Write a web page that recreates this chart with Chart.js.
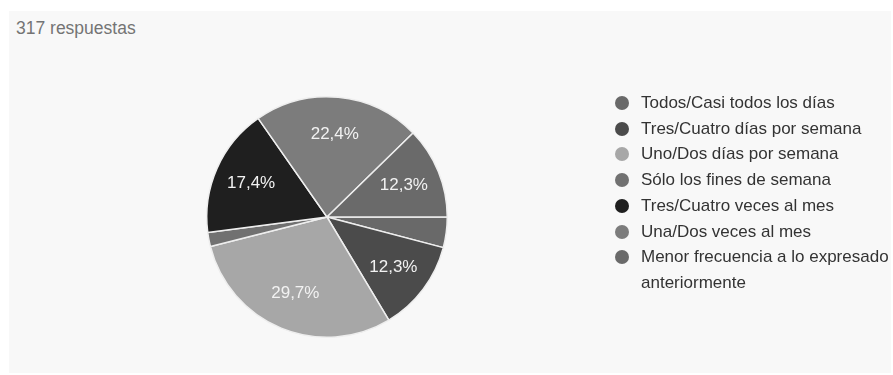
<!DOCTYPE html>
<html>
<head>
<meta charset="utf-8">
<script src="https://cdn.jsdelivr.net/npm/chart.js@4.4.0/dist/chart.umd.min.js"></script>
<style>
  body { margin: 0; background: #fff; width: 893px; height: 375px; overflow: hidden; font-family: "Liberation Sans", Arial, sans-serif; }
  #panel { position: absolute; left: 9px; top: 11px; width: 882px; height: 362px; background: #f8f8f8; }
  #title { position: absolute; left: 16px; top: 18px; font-size: 17.5px; color: #747474; }
  #wrap { position: absolute; left: 0; top: 0; width: 893px; height: 375px; }
  #legend { position: absolute; left: 614px; top: 90px; font-size: 17px; color: #333; line-height: 25.7px; }
  #legend .item { position: relative; padding-left: 27px; width: 252px; }
  #legend .dot { position: absolute; left: 1px; top: 6px; width: 14px; height: 14px; border-radius: 50%; }
</style>
</head>
<body>
<div id="panel"></div>
<div id="title">317 respuestas</div>
<div id="wrap"><canvas id="myChart"></canvas></div>
<div id="legend"></div>
<script>
// Data
const labels = [
    'Todos/Casi todos los días',
    'Tres/Cuatro días por semana',
    'Uno/Dos días por semana',
    'Sólo los fines de semana',
    'Tres/Cuatro veces al mes',
    'Una/Dos veces al mes',
    'Menor frecuencia a lo expresado anteriormente'
];
const counts = [13, 39, 94, 6, 55, 71, 39];
const colors = ['#696969', '#4b4b4b', '#a7a7a7', '#717171', '#1f1f1f', '#7c7c7c', '#6a6a6a'];

// Legend
const legend = document.getElementById('legend');
labels.forEach((l, i) => {
    const d = document.createElement('div');
    d.className = 'item';
    d.innerHTML = '<span class="dot" style="background:' + colors[i] + '"></span>' + l;
    legend.appendChild(d);
});

// percent labels inside slices
const pctLabels = {
    id: 'pctLabels',
    afterDatasetsDraw(chart) {
        const ctx = chart.ctx;
        const total = counts.reduce((a, b) => a + b, 0);
        chart.getDatasetMeta(0).data.forEach((arc, i) => {
            const pct = counts[i] / total * 100;
            if (pct < 5) return;
            const mid = (arc.startAngle + arc.endAngle) / 2;
            const r = arc.outerRadius * 0.69;
            ctx.save();
            ctx.fillStyle = '#f2f2f2';
            ctx.font = '17px "Liberation Sans", Arial, sans-serif';
            ctx.textAlign = 'center';
            ctx.textBaseline = 'middle';
            ctx.fillText(pct.toFixed(1).replace('.', ',') + '%', arc.x + Math.cos(mid) * r, arc.y + Math.sin(mid) * r);
            ctx.restore();
        });
    }
};

const myChart = new Chart(document.getElementById('myChart'), {
    type: 'pie',
    data: {
        labels: labels,
        datasets: [{
            data: counts,
            backgroundColor: colors,
            borderColor: '#eeeeee',
            borderWidth: 1.5
        }]
    },
    options: {
        responsive: true,
        maintainAspectRatio: false,
        animation: false,
        rotation: 90,
        layout: {
            padding: { left: 206, right: 445, top: 96, bottom: 37 }
        },
        plugins: {
            legend: false,
            tooltip: { enabled: false }
        }
    },
    plugins: [pctLabels]
});
</script>
</body>
</html>
